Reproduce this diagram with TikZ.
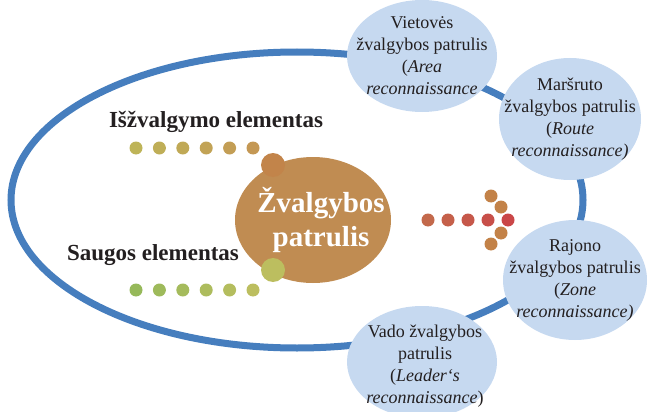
\documentclass[tikz,border=0pt]{standalone}
\usepackage{fontspec}
\setmainfont{Liberation Serif}
\usetikzlibrary{shapes.geometric}

\definecolor{ringblue}{RGB}{70,126,190}
\definecolor{reconfill}{RGB}{198,217,240}
\definecolor{corebrown}{RGB}{192,140,82}
\definecolor{textgray}{RGB}{35,31,32}
\definecolor{scoutA}{RGB}{190,180,88}
\definecolor{scoutB}{RGB}{196,152,84}
\definecolor{guardA}{RGB}{150,185,90}
\definecolor{guardB}{RGB}{188,190,95}
\definecolor{arrowA}{RGB}{195,105,75}
\definecolor{arrowB}{RGB}{202,70,72}
\definecolor{headdot}{RGB}{195,130,72}

\begin{document}
\begin{tikzpicture}[
    x=1pt, y=-1pt,
    recon/.style={ellipse, fill=reconfill, inner sep=0pt, minimum width=150pt, minimum height=112pt},
    recontext/.style={align=center, text=textgray, font=\fontsize{18}{22}\selectfont},
    core/.style={ellipse, fill=corebrown, inner sep=0pt, minimum width=156pt, minimum height=126pt},
    coretext/.style={align=center, text=white, font=\bfseries\fontsize{29}{34}\selectfont},
    dot/.style={circle, inner sep=0pt, minimum size=13pt},
    knob/.style={circle, inner sep=0pt, minimum size=24pt},
    lbl/.style={text=textgray, font=\bfseries\fontsize{23}{26}\selectfont}
]
    \useasboundingbox (0,0) rectangle (651,412);

    % outer ring
    \draw[ringblue, line width=7pt] (297,200) ellipse [x radius=286pt, y radius=148pt];

    % reconnaissance types
    \node[recon] (area) at (422,56) {};
    \node[recontext] (areatxt) at (area) {Vietovės\\ žvalgybos patrulis\\ (\textit{Area}\\ \textit{reconnaissance}};

    \node[recon, minimum width=142pt, minimum height=122pt] (route) at (570,119) {};
    \node[recontext] (routetxt) at (route) {Maršruto\\ žvalgybos patrulis\\ (\textit{Route}\\ \textit{reconnaissance)}};

    \node[recon, minimum width=144pt, minimum height=120pt] (zone) at (575,280) {};
    \node[recontext] (zonetxt) at (zone) {Rajono\\ žvalgybos patrulis\\ (\textit{Zone}\\ \textit{reconnaissance)}};

    \node[recon] (leader) at (422,362) {};
    \node[recontext] (leadertxt) at ([xshift=3pt, yshift=-4pt]leader.center) {Vado žvalgybos\\ patrulis\\ (\textit{Leader‘s}\\ \textit{reconnaissance})};

    % patrol
    \node[core] (core) at (313,220) {};
    \node[coretext] (coretxt) at ([xshift=8pt]core.center) {Žvalgybos\\ patrulis};
    \node[knob, fill=headdot!80!corebrown] (knobup) at (273,165) {};
    \node[knob, fill=guardB] (knobdown) at (273,270) {};

    % elements
    \node[lbl] (scoutlbl) at (216,122) {Išžvalgymo elementas};
    \node[lbl] (guardlbl) at (153,255) {Saugos elementas};

    \foreach \i in {0,...,5} {
        \pgfmathtruncatemacro\pct{100-20*\i}
        \node[dot, fill=scoutA!\pct!scoutB] (scout\i) at ({136+23.4*\i},148) {};
        \node[dot, fill=guardA!\pct!guardB] (guard\i) at ({136+23.4*\i},290) {};
    }

    % arrow of dots
    \foreach \x [count=\i from 0] in {428,448,468,488,508} {
        \pgfmathtruncatemacro\pct{25*\i}
        \node[dot, fill=arrowB!\pct!arrowA] (shaft\i) at (\x,220) {};
    }
    \node[dot, fill=headdot] (headA) at (491,196) {};
    \node[dot, fill=headdot] (headB) at (501,207) {};
    \node[dot, fill=headdot] (headC) at (501,233) {};
    \node[dot, fill=headdot] (headD) at (491,244) {};
\end{tikzpicture}
\end{document}
